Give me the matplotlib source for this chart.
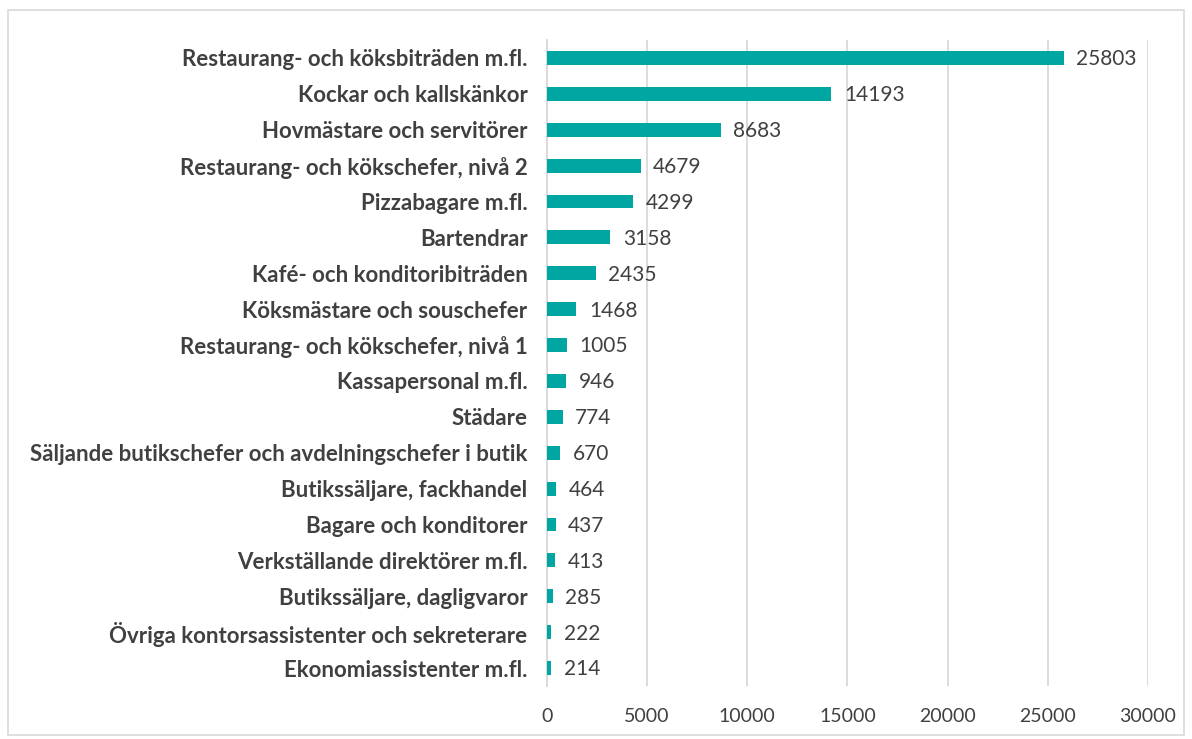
#!/usr/bin/env python3
"""
Horizontal bar chart of occupations
"""
import matplotlib
matplotlib.use('Agg')
import matplotlib.pyplot as plt
from matplotlib.patches import Rectangle

categories = [
    'Restaurang- och köksbiträden m.fl.',
    'Kockar och kallskänkor',
    'Hovmästare och servitörer',
    'Restaurang- och kökschefer, nivå 2',
    'Pizzabagare m.fl.',
    'Bartendrar',
    'Kafé- och konditoribiträden',
    'Köksmästare och souschefer',
    'Restaurang- och kökschefer, nivå 1',
    'Kassapersonal m.fl.',
    'Städare',
    'Säljande butikschefer och avdelningschefer i butik',
    'Butikssäljare, fackhandel',
    'Bagare och konditorer',
    'Verkställande direktörer m.fl.',
    'Butikssäljare, dagligvaror',
    'Övriga kontorsassistenter och sekreterare',
    'Ekonomiassistenter m.fl.',
]
values = [25803, 14193, 8683, 4679, 4299, 3158, 2435, 1468, 1005,
          946, 774, 670, 464, 437, 413, 285, 222, 214]
xticks = [0, 5000, 10000, 15000, 20000, 25000, 30000]

BAR = '#00A6A2'
TEXT = '#404040'
GRID = '#D9D9D9'

plt.rcParams['font.family'] = ['Lato', 'DejaVu Sans']

W, H = 1192, 739
fig = plt.figure(figsize=(W / 100, H / 100), dpi=100)
ax = fig.add_axes([547 / W, 1 - 686 / H, (1148 - 547) / W, (686 - 40) / H])

ypos = list(range(len(categories)))
ax.barh(ypos, values, height=0.39, color=BAR, zorder=3)
ax.set_ylim(len(categories) - 0.5, -0.5)
ax.set_xlim(0, 30000)
ax.set_xticks(xticks)
ax.set_xticklabels([str(t) for t in xticks], fontsize=14, color=TEXT)
ax.set_yticks(ypos)
ax.set_yticklabels(categories, fontsize=16, fontweight='bold', color=TEXT)
ax.tick_params(axis='both', length=0)
ax.tick_params(axis='y', pad=14)
ax.tick_params(axis='x', pad=16)
ax.grid(axis='x', color=GRID, linewidth=1.3, zorder=0)
for s in ['top', 'right', 'bottom']:
    ax.spines[s].set_visible(False)
ax.spines['left'].set_color(GRID)
ax.spines['left'].set_linewidth(1.3)

for y, v in zip(ypos, values):
    ax.annotate(str(v), (v, y), xytext=(9, -1), textcoords='offset points',
                va='center', ha='left', fontsize=15, color=TEXT)

fig.patches.append(Rectangle((8 / W, 4 / H), (W - 16) / W, (H - 14) / H,
                             transform=fig.transFigure, fill=False,
                             edgecolor=GRID, linewidth=1.2))

fig.savefig('out.png', dpi=100)
